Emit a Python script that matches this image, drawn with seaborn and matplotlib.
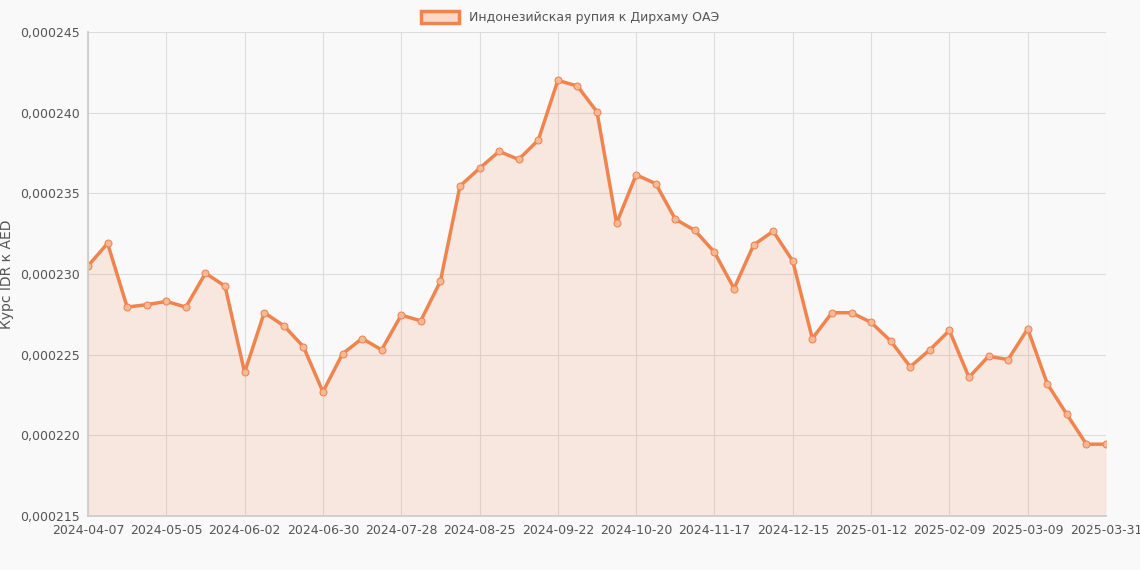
import matplotlib
matplotlib.use("Agg")
import matplotlib.pyplot as plt
import seaborn as sns
import pandas as pd
import numpy as np

values = [230.5,231.9,227.95,228.1,228.3,227.95,230.05,229.25,223.9,227.6,226.8,225.5,222.7,225.05,226.0,225.3,
          227.45,227.1,229.55,235.45,236.55,237.6,237.1,238.3,242.0,241.65,240.05,233.15,236.15,235.6,233.4,232.7,
          231.35,229.1,231.8,232.65,230.8,226.0,227.6,227.6,227.0,225.85,224.25,225.3,226.5,223.6,224.9,224.7,
          226.6,223.2,221.3,219.45,219.45]
values = [v * 1e-6 for v in values]
dates = list(pd.date_range("2024-04-07", periods=len(values), freq="7D").strftime("%Y-%m-%d"))
dates[-1] = "2025-03-31"
tick_idx = list(range(0, len(values), 4))
ticks_y = [0.000215, 0.000220, 0.000225, 0.000230, 0.000235, 0.000240, 0.000245]
label = "Индонезийская рупия к Дирхаму ОАЭ"
color = "#f0844f"

sns.set_theme(style="whitegrid")
plt.rcParams['font.family'] = ['DejaVu Sans']
df = pd.DataFrame({"i": np.arange(len(values)), "v": values})

fig = plt.figure(figsize=(11.4, 5.7), dpi=100, facecolor="#f9f9f9")
ax = fig.add_axes([88/1140, 1-516/570, (1106-88)/1140, (516-32)/570])
ax.set_facecolor("#f9f9f9")
ax.fill_between(df["i"], df["v"], 0.000215, color=color, alpha=0.15, lw=0)
sns.lineplot(data=df, x="i", y="v", ax=ax, color=color, lw=2.5, marker="o", markersize=5,
             markerfacecolor="#f7b896", markeredgecolor=color, label=label)
ax.set_xlim(0, len(values)-1)
ax.set_ylim(0.000215, 0.000245)
ax.set_yticks(ticks_y)
ax.set_yticklabels([f"{t:.6f}".replace(".", ",") for t in ticks_y], fontsize=9, color="#555")
ax.set_xticks(tick_idx)
ax.set_xticklabels([dates[i] for i in tick_idx], fontsize=9, color="#555")
ax.set_xlabel("")
ax.set_ylabel("Курс IDR к AED", fontsize=10, color="#555")
ax.grid(color="#dddddd", lw=0.8)
for s in ax.spines.values():
    s.set_visible(False)
ax.spines["left"].set_visible(True); ax.spines["left"].set_color("#ccc")
ax.spines["bottom"].set_visible(True); ax.spines["bottom"].set_color("#ccc")
ax.tick_params(length=4, color="#ccc", pad=2)
ax.get_legend().remove()
from matplotlib.patches import Patch
fig.legend(handles=[Patch(facecolor="#f9d9c8", edgecolor=color, lw=2.5, label=label)],
           loc="upper center", bbox_to_anchor=(0.5, 1.0), frameon=False, fontsize=9,
           handlelength=3, handleheight=1, labelcolor="#555")
fig.savefig("out.png", dpi=100, facecolor=fig.get_facecolor())
